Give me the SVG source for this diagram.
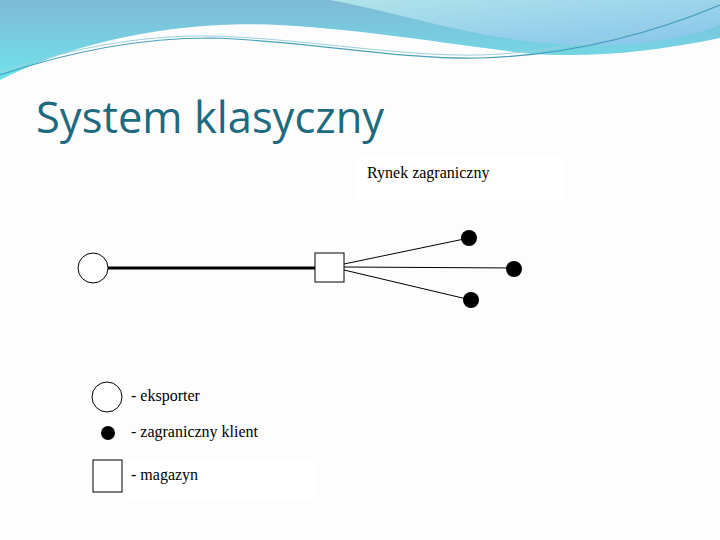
<svg xmlns="http://www.w3.org/2000/svg" width="720" height="540" viewBox="0 0 720 540">
<defs>
<linearGradient id="g1" x1="0" y1="0" x2="0" y2="1"><stop offset="0" stop-color="#7fb9d6"/><stop offset="1" stop-color="#6fe3ec"/></linearGradient>
<linearGradient id="g2" x1="0" y1="0" x2="1" y2="1"><stop offset="0" stop-color="#b0e4ea"/><stop offset="1" stop-color="#88c4ec"/></linearGradient>
<style>
.t{font-family:"Liberation Serif",serif;font-size:16px;fill:#000}
.ln{stroke:#000;fill:none}
</style>
</defs>
<rect width="720" height="540" fill="#fdfdfd"/>
<g id="header">
<path d="M0,0 H720 V38 C640,55 560,60 500,50 C420,40 300,20 220,25 C130,30 60,50 0,80 Z" fill="url(#g1)"/>
<path d="M330,0 H720 V25 C680,40 630,48 560,44 C470,38 410,15 330,0 Z" fill="url(#g2)"/>
<path d="M0,75 C80,48 150,38 210,38 C300,40 400,60 480,58 C580,55 660,30 720,5" stroke="#4aa0b8" stroke-width="1.2" fill="none"/>
<path d="M0,72 C80,45 150,35 210,36 C300,38 400,57 480,55 C580,52 660,25 720,2" stroke="#9bd0dc" stroke-width="1" fill="none"/>
</g>
<text x="36" y="133" font-family="'Open Sans',sans-serif" font-size="43.5" fill="#1e6a7e">System klasyczny</text>
<g id="label-rynek"><rect x="358" y="157" width="208" height="44" fill="#fff"/><text class="t" x="367" y="178">Rynek zagraniczny</text></g>
<g id="connectors">
<line class="ln" x1="108" y1="268" x2="315" y2="268" stroke-width="3"/>
<line class="ln" x1="344" y1="264" x2="469" y2="238"/>
<line class="ln" x1="344" y1="267" x2="514" y2="268"/>
<line class="ln" x1="344" y1="270" x2="471" y2="300"/>
</g>
<g id="exporter"><circle cx="93" cy="268" r="15" fill="#fff" stroke="#000"/></g>
<g id="magazyn"><rect x="315" y="253" width="29" height="29" fill="#fff" stroke="#000"/></g>
<g id="klient1"><circle cx="469" cy="238" r="8" fill="#000"/></g>
<g id="klient2"><circle cx="514" cy="269" r="8" fill="#000"/></g>
<g id="klient3"><circle cx="471" cy="300" r="8" fill="#000"/></g>
<g id="legend">
<circle cx="107" cy="397" r="15" fill="#fff" stroke="#000"/>
<text class="t" x="131" y="401">- eksporter</text>
<circle cx="108" cy="433" r="7" fill="#000"/>
<text class="t" x="131" y="437">- zagraniczny klient</text>
<rect x="126" y="459" width="190" height="42" fill="#fff"/>
<rect x="93" y="460" width="29" height="32" fill="#fff" stroke="#000"/>
<text class="t" x="131" y="480">- magazyn</text>
</g>
</svg>
